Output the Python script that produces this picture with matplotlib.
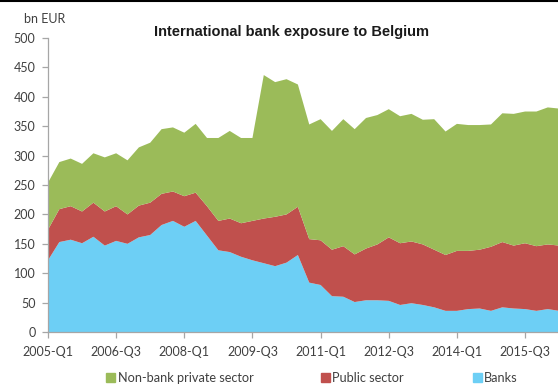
import matplotlib.pyplot as plt
import numpy as np
from matplotlib.patches import Patch
from matplotlib.lines import Line2D

# quarterly data, 2005-Q1 .. 2016-Q2 (bn EUR)
quarters = [f'{y}-Q{q}' for y in range(2005, 2017) for q in range(1, 5)][:46]

# cumulative top edges
total = [254, 289, 295, 286, 304, 297, 304, 292, 314, 322, 345, 348, 339, 354, 330, 330,
         342, 330, 330, 437, 425, 430, 421, 353, 362, 342, 362, 345, 364, 369, 379, 367,
         371, 361, 362, 341, 354, 352, 352, 353, 372, 371, 375, 375, 382, 380]
banks_public = [174, 209, 214, 205, 220, 205, 214, 200, 215, 220, 235, 239, 231, 237, 214, 189,
                193, 185, 189, 193, 196, 200, 213, 158, 156, 140, 146, 132, 142, 149, 161, 151,
                154, 149, 140, 131, 138, 138, 140, 145, 153, 147, 151, 146, 149, 147]
banks = [122, 153, 157, 151, 162, 147, 155, 150, 161, 165, 182, 189, 179, 189, 164, 139,
         136, 128, 122, 117, 112, 118, 131, 84, 80, 61, 60, 51, 54, 54, 53, 46,
         49, 46, 42, 36, 36, 39, 40, 36, 42, 40, 39, 36, 39, 36]

banks = np.array(banks)
public = np.array(banks_public) - banks
nonbank = np.array(total) - np.array(banks_public)

labels = ['Banks', 'Public sector', 'Non-bank private sector']
colors = ['#6DCFF5', '#C0504D', '#9BBB59']

fig = plt.figure(figsize=(5.58, 3.92), dpi=100)
ax = fig.add_axes([0.086, 0.153, 0.914, 0.750])

x = np.arange(len(quarters))
ax.stackplot(x, banks, public, nonbank, colors=colors, linewidth=0)

ax.set_xlim(0, 44.9)
ax.set_ylim(0, 500)
ax.set_yticks(np.arange(0, 501, 50))
ax.set_xticks(x[::6])
ax.set_xticklabels(quarters[::6])

for s in ['top', 'right']:
    ax.spines[s].set_visible(False)
for s in ['left', 'bottom']:
    ax.spines[s].set_color('#A6A6A6')
    ax.spines[s].set_linewidth(0.9)
ax.tick_params(axis='both', colors='#A6A6A6', length=4, width=0.9,
               labelcolor='#404040', labelsize=9)
for lbl in ax.get_xticklabels() + ax.get_yticklabels():
    lbl.set_family('Lato')
ax.tick_params(axis='y', pad=5)
ax.tick_params(axis='x', pad=6)

fig.text(0.043, 0.952, 'bn EUR', fontsize=9, color='#404040', family='Lato', va='center')
fig.text(0.522, 0.918, 'International bank exposure to Belgium', fontsize=10.5,
         fontweight='bold', family='Liberation Sans', ha='center', va='center', color='#1a1a1a')

# legend, one entry at a time so the spacing follows the picture
leg_x = [0.190, 0.575, 0.847]
leg_order = [2, 1, 0]
for lx, k in zip(leg_x, leg_order):
    lg = fig.legend(handles=[Patch(color=colors[k], label=labels[k])], loc='center left',
                    bbox_to_anchor=(lx, 0.036), frameon=False, handlelength=0.7,
                    handleheight=0.7, handletextpad=0.2, borderaxespad=0, borderpad=0,
                    prop={'family': 'Lato', 'size': 9.2})
    for t in lg.get_texts():
        t.set_color('#404040')

fig.add_artist(Line2D([0, 1], [0.997, 0.997], color='black', lw=1.5, transform=fig.transFigure))

fig.savefig('out.png', dpi=100)
